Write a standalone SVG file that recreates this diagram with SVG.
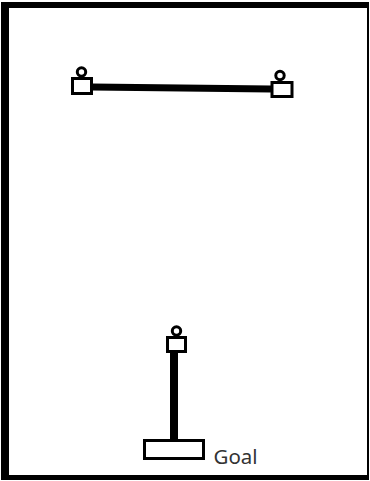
<svg xmlns="http://www.w3.org/2000/svg" width="370" height="481" viewBox="0 0 370 481">
<style>
.box{fill:#fff;stroke:#000;stroke-width:3}
.head{fill:#fff;stroke:#000;stroke-width:3}
.bar{stroke:#000;stroke-width:7;fill:none}
.lbl{font-family:"Noto Sans","Open Sans","Liberation Sans",sans-serif;font-size:20.5px;fill:#333}
</style>
<rect width="370" height="481" fill="#fff"/>
<path d="M1,2H369V480H1Z M9,8V475H367V8Z" fill="#000" fill-rule="evenodd"/>
<g id="connectors">
<line class="bar" x1="92" y1="87" x2="271" y2="89"/>
<line class="bar" x1="174" y1="353" x2="174" y2="440" style="stroke-width:8"/>
</g>
<g id="node-left">
<circle class="head" cx="81.5" cy="72" r="4.2"/>
<rect class="box" x="72.5" y="78.5" width="19" height="15"/>
</g>
<g id="node-right">
<circle class="head" cx="280" cy="75.5" r="4.2"/>
<rect class="box" x="272" y="82.5" width="20" height="14"/>
</g>
<g id="node-bottom">
<circle class="head" cx="176.5" cy="331" r="4.2"/>
<rect class="box" x="167.5" y="337.5" width="18" height="14"/>
</g>
<g id="goal">
<rect class="box" x="144.5" y="440.5" width="59" height="18"/>
<text class="lbl" x="213.5" y="464">Goal</text>
</g>
</svg>
